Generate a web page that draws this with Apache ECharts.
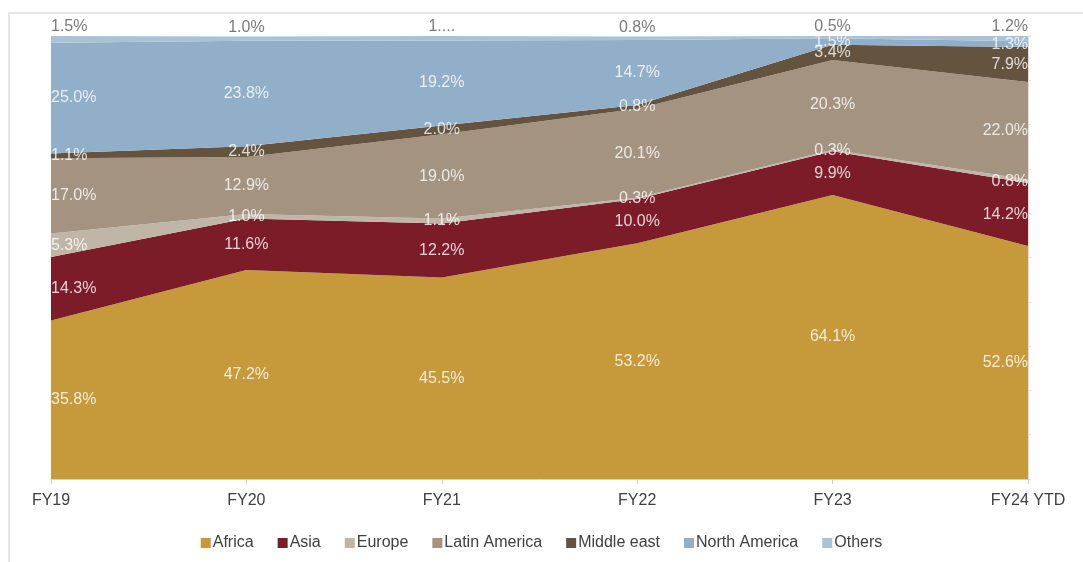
<!DOCTYPE html>
<html>
<head>
<meta charset="utf-8">
<script src="https://cdn.jsdelivr.net/npm/echarts@6/dist/echarts.min.js"></script>
<style>
  html, body { margin: 0; padding: 0; background: #fff; }
  #wrap { position: absolute; left: 8px; top: 12px; width: 1075px; height: 550px;
          border-left: 2px solid #e6e6e6; border-top: 2px solid #e6e6e6; }
  #chart { position: absolute; left: 0; top: 0; width: 1083px; height: 562px; }
</style>
</head>
<body>
<div id="wrap"></div>
<div id="chart"></div>
<script>
var years = ['FY19', 'FY20', 'FY21', 'FY22', 'FY23', 'FY24 YTD'];
var regions = ['Africa', 'Asia', 'Europe', 'Latin America', 'Middle east', 'North America', 'Others'];

var africa       = [35.8, 47.2, 45.5, 53.2, 64.1, 52.6];
var asia         = [14.3, 11.6, 12.2, 10.0, 9.9, 14.2];
var europe       = [5.3, 1.0, 1.1, 0.3, 0.3, 0.8];
var latinAmerica = [17.0, 12.9, 19.0, 20.1, 20.3, 22.0];
var middleEast   = [1.1, 2.4, 2.0, 0.8, 3.4, 7.9];
var northAmerica = [25.0, 23.8, 19.2, 14.7, 1.5, 1.3];
var others       = [1.5, 1.0, 1.0, 0.8, 0.5, 1.2];

// label text shown truncated in the original for FY21 "Others"
var othersText = ['1.5%', '1.0%', '1....', '0.8%', '0.5%', '1.2%'];

var colors = ['#c69a3a', '#7b1c28', '#bfb6a8', '#a39380', '#63533f', '#91afc8', '#a9c2d8'];

(function(){
	var chart = echarts.init(document.getElementById('chart'));
	var values = [africa, asia, europe, latinAmerica, middleEast, northAmerica, others];
	var font = '"Liberation Sans", Arial, sans-serif';
	var series = [];
	var base = years.map(function(){ return 0; });

	values.forEach(function(vals, i){
		series.push({
			name: regions[i],
			type: 'line',
			stack: 'total',
			symbol: 'none',
			lineStyle: { width: 0 },
			areaStyle: { color: colors[i], opacity: 1 },
			itemStyle: { color: colors[i] },
			data: vals,
			z: 2
		});

		// labels: placed at the middle of each band (Others above the plot)
		var isOthers = i === values.length - 1;
		var pts = vals.map(function(v, k){
			var y = isOthers ? base[k] + v : base[k] + v / 2;
			var align = k === 0 ? 'left' : (k === years.length - 1 ? 'right' : 'center');
			return {
				value: [years[k], y, v, k],
				label: { align: align }
			};
		});
		series.push({
			name: regions[i] + '_lbl',
			type: 'scatter',
			symbolSize: 0,
			silent: true,
			z: 5,
			data: pts,
			label: {
				show: true,
				position: isOthers ? 'top' : 'inside',
				distance: 1,
				color: isOthers ? '#595959' : '#ffffff',
				fontFamily: font,
				fontSize: 16,
				formatter: function(p){
					if (isOthers) return othersText[p.value[3]];
					return p.value[2].toFixed(1) + '%';
				}
			}
		});
		vals.forEach(function(v, k){ base[k] += v; });
	});

	var option = {
		backgroundColor: 'rgba(0,0,0,0)',
		animation: false,
		grid: { left: 51, right: 55, top: 36, bottom: 83 },
		legend: {
			data: regions,
			top: 530,
			left: 'center',
			icon: 'rect',
			itemWidth: 10,
			itemHeight: 10,
			itemGap: 24,
			textStyle: { color: '#404040', fontSize: 16, fontFamily: font, padding: [0, 0, 0, -3] }
		},
		xAxis: {
			type: 'category',
			data: years,
			boundaryGap: false,
			axisLine: { lineStyle: { color: '#d0d0d0' } },
			axisTick: { show: true, length: 5, lineStyle: { color: '#d0d0d0' } },
			axisLabel: { color: '#404040', fontSize: 16, fontFamily: font, margin: 14 }
		},
		yAxis: {
			type: 'value',
			min: 0,
			max: 100,
			interval: 10,
			position: 'right',
			axisLine: { show: true, lineStyle: { color: '#e2e2e2' } },
			axisTick: { show: true, length: 3, lineStyle: { color: '#e2e2e2' } },
			axisLabel: { show: false },
			splitLine: { show: false }
		},
		series: series
	};
	chart.setOption(option);
})();
</script>
</body>
</html>
